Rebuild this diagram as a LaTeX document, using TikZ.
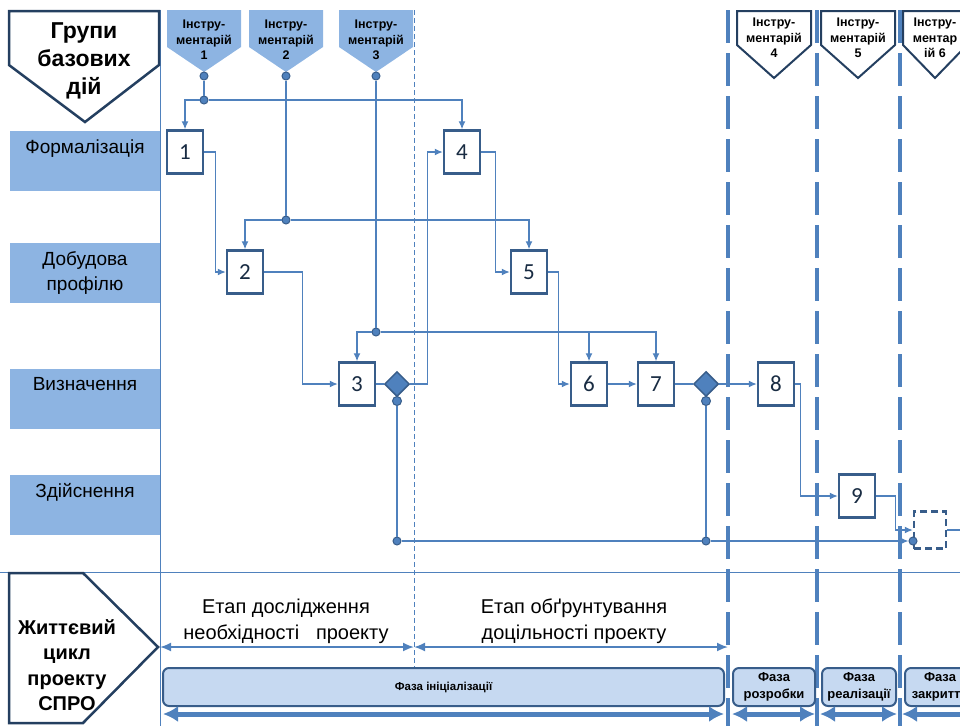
\documentclass[tikz,border=0pt]{standalone}
\usepackage{fontspec}
\setmainfont{Liberation Sans}
\newfontfamily\numfont{Carlito}
\usetikzlibrary{arrows.meta,positioning,shapes.geometric}
\definecolor{lanefill}{HTML}{8DB4E2}
\definecolor{flowblue}{HTML}{4F81BD}
\definecolor{boxnavy}{HTML}{385D8A}
\definecolor{headnavy}{HTML}{243F60}
\definecolor{phasefill}{HTML}{C6D9F1}

\begin{document}
\begin{tikzpicture}[
    x=1pt,y=-1pt,>=Latex,
    link/.style={draw=flowblue,line width=1.3pt},
    flow/.style={link,-{Latex[length=8pt,width=7pt]}},
    busdot/.style={circle,fill=flowblue,draw=boxnavy,line width=1pt,minimum size=8pt,inner sep=0pt},
    stepbox/.style={rectangle,draw=boxnavy,line width=2.4pt,fill=white,minimum width=36pt,minimum height=43pt,
      inner sep=0pt,font=\numfont\fontsize{23}{24}\selectfont,text=headnavy!70!black},
    gate/.style={diamond,aspect=1,minimum size=25pt,inner sep=0pt,fill=flowblue,draw=boxnavy,line width=1.5pt},
    lane/.style={rectangle,fill=lanefill,minimum width=150pt,minimum height=60pt,inner sep=0pt},
    lanetext/.style={anchor=north,align=center,font=\fontsize{19}{25}\selectfont},
    tagtext/.style={align=center,font=\bfseries\fontsize{12.5}{15.5}\selectfont},
    phase/.style={rectangle,rounded corners=6pt,fill=phasefill,draw=boxnavy,line width=2pt,minimum height=38pt,
      inner sep=0pt,align=center,font=\bfseries\fontsize{13}{17}\selectfont},
    stagespan/.style={draw=flowblue,line width=1.8pt,{Latex[length=11pt,width=9pt]}-{Latex[length=11pt,width=9pt]}},
    phasespan/.style={draw=flowblue,line width=5pt,{Latex[length=15pt,width=16pt]}-{Latex[length=15pt,width=16pt]}},
    phaseline/.style={draw=flowblue,line width=4pt,dash pattern=on 33pt off 10pt}
  ]
  \useasboundingbox (0,0) rectangle (960,726);

  % frame lines
  \draw[link,line width=1pt] (160,10) -- (160,726);
  \draw[link,line width=1pt] (0,572) -- (960,572);
  \draw[link,line width=1pt,dash pattern=on 5pt off 3pt] (414,10) -- (414,667);

  % header: groups of base actions
  \draw[headnavy,line width=2.5pt,fill=white] (9,11) -- (159,11) -- (159,65) -- (85,122) -- (9,65) -- cycle;
  \node[font=\bfseries\fontsize{23}{28}\selectfont,align=center] (groups) at (84,61) {Групи\\базових\\дій};

  % lanes
  \node[lane] (rowF) at (85,161) {};
  \node[lanetext] at ([yshift=-5pt]rowF.north) {Формалізація};
  \node[lane] (rowD) at (85,273) {};
  \node[lanetext] at ([yshift=-5pt]rowD.north) {Добудова\\профілю};
  \node[lane] (rowV) at (85,399) {};
  \node[lanetext] at ([yshift=-5pt]rowV.north) {Визначення};
  \node[lane] (rowZ) at (85,505) {};
  \node[lanetext] at ([yshift=-5pt]rowZ.north) {Здійснення};

  % toolkits
  \foreach \cx/\k in {204/1,286/2,376/3}{
    \fill[lanefill] (\cx-37,10) -- (\cx+37,10) -- (\cx+37,47) -- (\cx,72) -- (\cx-37,47) -- cycle;
    \node[tagtext] at (\cx,40) {Інстру-\\ментарій\\\k};
    \node[busdot] (tag\k) at (\cx,76) {};
  }
  \foreach \cx/\k in {774/4,858/5}{
    \draw[headnavy,line width=2pt,fill=white] (\cx-37,11) -- (\cx+37,11) -- (\cx+37,45) -- (\cx,78) -- (\cx-37,45) -- cycle;
    \node[tagtext] at (\cx,38) {Інстру-\\ментарій\\\k};
  }
  \draw[headnavy,line width=2pt,fill=white] (903,11) -- (967,11) -- (967,45) -- (935,78) -- (903,45) -- cycle;
  \node[tagtext] (tag6) at (935,38) {Інстру-\\ментар\\ій 6};

  % steps
  \node[stepbox] (s1) at (185,152) {1};
  \node[stepbox] (s2) at (245,272) {2};
  \node[stepbox] (s3) at (357,384) {3};
  \node[stepbox] (s4) at (462,152) {4};
  \node[stepbox] (s5) at (529,272) {5};
  \node[stepbox] (s6) at (589,384) {6};
  \node[stepbox] (s7) at (656,384) {7};
  \node[stepbox] (s8) at (776,384) {8};
  \node[stepbox] (s9) at (857,496) {9};
  \node[stepbox,dash pattern=on 7pt off 4pt,minimum width=32pt,minimum height=37pt] (s10) at (930,530) {};
  \coordinate (outR) at (962,530);

  \node[gate] (g1) at (397,384) {};
  \node[busdot,minimum size=9pt] (g1s) at (397,401) {};
  \node[gate] (g2) at (706,384) {};
  \node[busdot,minimum size=9pt] (g2s) at (706,401) {};

  % buses
  \node[busdot] (b1) at (204,100) {};
  \node[busdot] (b2) at (286,220) {};
  \node[busdot] (b3) at (376,332) {};
  \node[busdot] (b4) at (397,541) {};
  \node[busdot] (b5) at (706,541) {};
  \node[busdot] (b6) at (913,541) {};

  \draw[link] (tag1) -- (b1);
  \draw[flow] (b1) -| (s1.north);
  \draw[flow] (b1) -| (s4.north);
  \draw[link] (tag2) -- (b2);
  \draw[flow] (b2) -| (s2.north);
  \draw[flow] (b2) -| (s5.north);
  \draw[link] (tag3) -- (b3);
  \draw[flow] (b3) -| (s3.north);
  \draw[flow] (b3) -| (s6.north);
  \draw[flow] (b3) -| (s7.north);

  \draw[flow] (s1.east) -- ++(11,0) |- (s2.west);
  \draw[flow] (s2.east) -- ++(38,0) |- (s3.west);
  \draw[link] (s3) -- (g1);
  \draw[flow] (g1.east) -- ++(17,0) |- (s4.west);
  \draw[flow] (s4.east) -- ++(14,0) |- (s5.west);
  \draw[flow] (s5.east) -- ++(10,0) |- (s6.west);
  \draw[flow] (s6) -- (s7);
  \draw[link] (s7) -- (g2);
  \draw[flow] (g2) -- (s8);
  \draw[flow] (s8.east) -- ++(5,0) |- (s9.west);
  \draw[flow] (s9.east) -- ++(19,0) |- (s10.west);
  \draw[link] (s10.east) -- (outR);
  \draw[link] (g1s) -- (b4);
  \draw[link] (g2s) -- (b5);
  \draw[link] (b4) -- (b5);
  \draw[flow] (b5) -- (b6);

  % phase borders
  \foreach \px in {728,817,900}
    \draw[phaseline] (\px,10) -- (\px,726);

  % life cycle
  \draw[headnavy,line width=2.5pt,fill=white] (9,573) -- (83,573) -- (158,647) -- (83,723) -- (9,723) -- cycle;
  \node[font=\bfseries\fontsize{20}{25.5}\selectfont,align=center] (lifecycle) at (67,665) {Життєвий\\цикл\\проекту\\СПРО};

  \node[font=\fontsize{20}{26}\selectfont,align=center] (stageA) at (286,621) {Етап дослідження\\необхідності\ \ \ проекту};
  \node[font=\fontsize{20}{26}\selectfont,align=center] (stageB) at (574,621) {Етап обґрунтування\\доцільності проекту};
  \coordinate (stA0) at (160,647);
  \coordinate (stA1) at (414,647);
  \coordinate (stB1) at (728,647);
  \draw[stagespan] (stA0) -- (stA1);
  \draw[stagespan] (stA1) -- (stB1);

  \node[phase,minimum width=561pt,font=\bfseries\fontsize{11.5}{14}\selectfont] (phInit) at (443.5,687) {Фаза ініціалізації};
  \node[phase,minimum width=82pt] (phDev) at (774,687) {Фаза\\розробки};
  \node[phase,minimum width=74pt] (phImpl) at (859,687) {Фаза\\реалізації};
  \node[phase,minimum width=70pt] (phClose) at (940,687) {Фаза\\закриття};

  \coordinate (pa0) at (163,714);
  \coordinate (pa1) at (724,714);
  \coordinate (pb0) at (732,714);
  \coordinate (pb1) at (815,714);
  \coordinate (pc0) at (820,714);
  \coordinate (pc1) at (897,714);
  \coordinate (pd0) at (902,714);
  \coordinate (pd1) at (978,714);
  \draw[phasespan] (pa0) -- (pa1);
  \draw[phasespan] (pb0) -- (pb1);
  \draw[phasespan] (pc0) -- (pc1);
  \draw[phasespan] (pd0) -- (pd1);
\end{tikzpicture}
\end{document}
